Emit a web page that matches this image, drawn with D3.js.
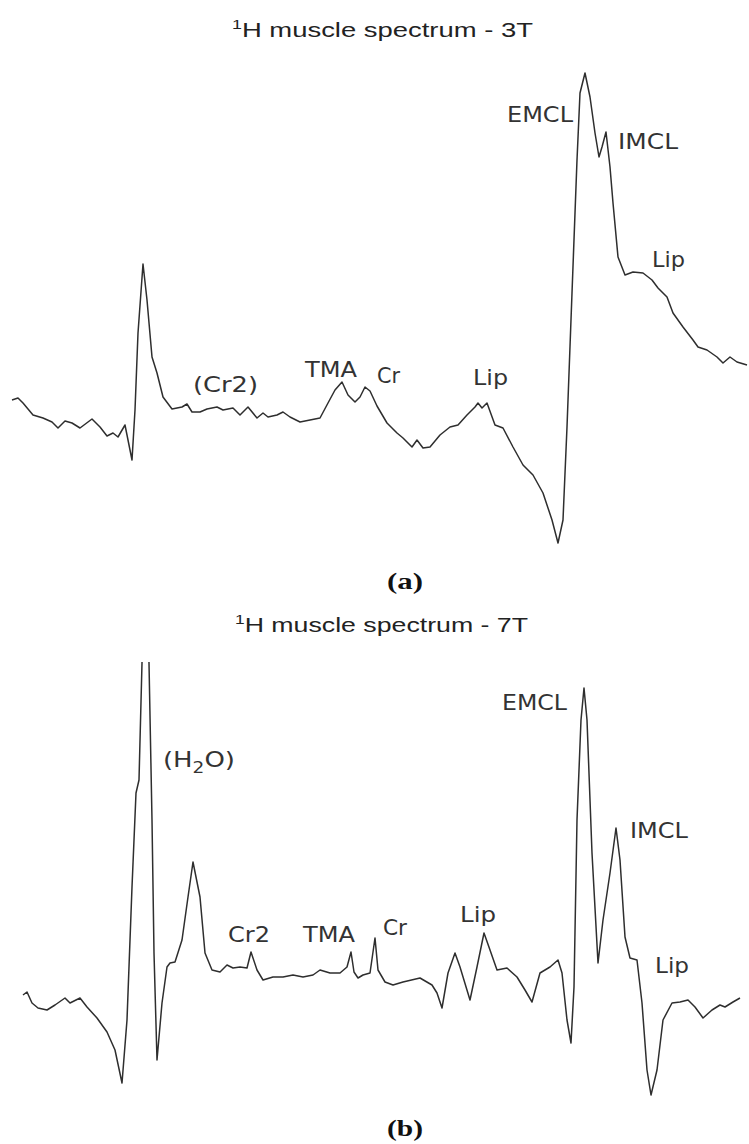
<!DOCTYPE html>
<html>
<head>
<meta charset="utf-8">
<script src="https://cdn.jsdelivr.net/npm/d3@7/dist/d3.min.js"></script>
<style>
  html, body { margin: 0; padding: 0; background: #fff; }
  svg { display: block; }
</style>
</head>
<body>
<svg id="chart" width="749" height="1144"></svg>
<script>
// ---------- DATA ----------
// Position along the chemical-shift axis (arbitrary units, left = high ppm)
const shift3T = [12,18,23,33,43,52,58,65,72,80,92,100,107,113,118,125,132,135,138,143,147,152,157,163,172,182,187,192,200,207,217,223,233,240,248,257,263,268,277,283,290,300,310,320,328,335,342,348,355,360,365,370,377,387,397,403,412,417,423,430,440,450,458,467,475,478,482,487,495,503,513,523,533,543,552,558,563,567,572,577,580,585,590,595,599,602,606,610,613,618,625,633,643,652,658,667,673,683,693,698,707,717,723,730,737,747];
// Signal intensity (arbitrary units)
const signal3T = [150,152,147,135,132,128,122,129,127,122,131,123,114,117,113,125,90,140,217,286,250,193,177,153,141,143,146,138,138,141,143,140,142,135,143,132,137,133,135,138,133,128,130,132,147,160,168,155,148,153,163,159,144,127,117,112,103,110,102,103,115,123,125,135,143,147,142,147,125,122,103,85,75,57,30,7,30,123,257,390,457,477,453,417,393,403,418,383,347,293,275,278,277,270,262,253,237,223,210,203,200,193,187,193,188,185];

const shift7T = [23,27,32,38,47,55,65,70,80,87,97,107,115,122,127,132,136,139,142,145.5,149,152,154,157,162,167,170,175,182,188,193,200,205,212,220,227,233,240,247,251,257,263,273,283,293,303,313,320,330,340,347,351,354,358,363,370,375,378,385,393,403,420,432,437,442,448,455,460,470,477,484,490,497,507,517,525,532,540,550,558,562,567,571,574,577,581,584,587,592,598,603,610,616,620,625,630,637,642,647,651,657,663,672,680,688,695,703,712,720,725,733,740];
const signal7T = [105,108,97,92,90,95,102,97,102,93,82,68,50,17,80,213,307,320,437,590,437,280,147,40,97,133,137,138,160,203,238,203,147,130,128,135,132,133,132,148,130,120,123,123,125,123,125,130,127,127,133,148,128,122,125,127,162,130,118,115,118,122,115,107,92,127,147,133,100,133,167,150,130,132,123,110,98,127,133,140,127,80,57,113,280,380,412,380,247,137,180,227,272,240,163,142,140,97,30,5,30,80,97,98,100,93,82,90,95,93,98,102];

// Peak labels: name, anchor position (shift, intensity), label width
const labels3T = ["(Cr2)","TMA","Cr","Lip","EMCL","IMCL","Lip"];
const labelShift3T = [193,305,377,473,507,618,652];
const labelSignal3T = [158,173,167,165,428,401,283];
const labelWidth3T = [65,52,23,35,66,60,33];

const labels7T = ["(H|2|O)","Cr2","TMA","Cr","Lip","EMCL","IMCL","Lip"];
const labelShift7T = [163,228,303,383,460,502,630,655];
const labelSignal7T = [333,158,158,165,178,390,262,127];
const labelWidth7T = [72,42,52,24,36,65,58,34];

const titles = ["muscle spectrum - 3T","muscle spectrum - 7T"];
const panelTags = ["(a)","(b)"];

// ---------- DRAW ----------
const svg = d3.select("#chart");
const W = 749;

const x = d3.scaleLinear().domain([0, 750]).range([0, 750]);

function panel(cfg) {
  const y = d3.scaleLinear().domain([0, 500]).range([cfg.bottom, cfg.bottom - 500]);
  const g = svg.append("g");

  const clipId = "clip" + cfg.id;
  svg.append("defs").append("clipPath").attr("id", clipId)
    .append("rect").attr("x", 0).attr("y", cfg.clipTop).attr("width", W).attr("height", cfg.bottom - cfg.clipTop + 40);

  const line = d3.line().x(d => x(d[0])).y(d => y(d[1])).curve(d3.curveLinear);
  const pts = cfg.shift.map((s, i) => [s, cfg.signal[i]]);
  g.append("path").datum(pts)
    .attr("d", line)
    .attr("clip-path", `url(#${clipId})`)
    .attr("fill", "none")
    .attr("stroke", "#2e2e2e")
    .attr("stroke-width", 1.5)
    .attr("stroke-linejoin", "round");

  // title
  const t = g.append("text")
    .attr("x", cfg.titleX).attr("y", cfg.titleY)
    .attr("font-family", "'Liberation Sans', Arial, sans-serif")
    .attr("font-size", 20).attr("fill", "#222")
    .attr("textLength", cfg.titleW).attr("lengthAdjust", "spacingAndGlyphs");
  t.append("tspan").attr("font-size", 13).attr("dy", -8).text("1");
  t.append("tspan").attr("dy", 8).text("H " + cfg.title);

  // peak labels
  cfg.labels.forEach((lab, i) => {
    const tx = g.append("text")
      .attr("x", x(cfg.lShift[i])).attr("y", y(cfg.lSignal[i]))
      .attr("font-family", "'DejaVu Sans', sans-serif")
      .attr("font-size", 21).attr("fill", "#333")
      .attr("textLength", cfg.lWidth[i]).attr("lengthAdjust", "spacingAndGlyphs");
    if (lab.includes("|")) {
      const parts = lab.split("|");
      tx.append("tspan").text(parts[0]);
      tx.append("tspan").attr("font-size", 15).attr("dy", 6).text(parts[1]);
      tx.append("tspan").attr("dy", -6).text(parts[2]);
    } else {
      tx.text(lab);
    }
  });

  // panel tag
  g.append("text")
    .attr("x", cfg.tagX).attr("y", cfg.tagY)
    .attr("font-family", "'Liberation Serif', 'Times New Roman', serif")
    .attr("font-weight", "bold").attr("font-size", 24).attr("fill", "#111")
    .attr("textLength", 36).attr("lengthAdjust", "spacingAndGlyphs")
    .text(cfg.tag);
}

panel({
  id: "a", bottom: 550, clipTop: 0,
  shift: shift3T, signal: signal3T,
  title: titles[0], titleX: 232, titleY: 37, titleW: 301,
  labels: labels3T, lShift: labelShift3T, lSignal: labelSignal3T, lWidth: labelWidth3T,
  tag: panelTags[0], tagX: 387, tagY: 589
});

panel({
  id: "b", bottom: 1100, clipTop: 662,
  shift: shift7T, signal: signal7T,
  title: titles[1], titleX: 235, titleY: 632, titleW: 293,
  labels: labels7T, lShift: labelShift7T, lSignal: labelSignal7T, lWidth: labelWidth7T,
  tag: panelTags[1], tagX: 387, tagY: 1136
});
</script>
</body>
</html>
